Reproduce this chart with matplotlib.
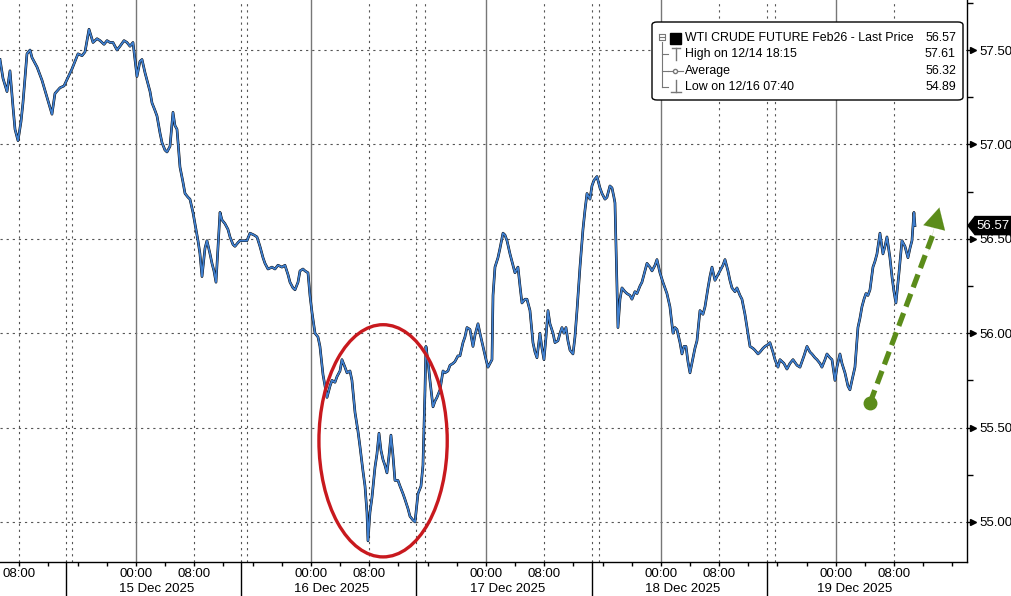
import matplotlib.pyplot as plt
import matplotlib.transforms as mtransforms
from matplotlib.patches import Ellipse, FancyBboxPatch, Polygon

plt.rcParams['font.family'] = ['Liberation Sans', 'DejaVu Sans']

# trading hours since Fri 12 Dec 00:00 (weekend taken out)
hours = [
    # Fri 12 Dec
    5.35, 5.76, 6.31, 6.72, 7.13, 7.41, 7.82, 8.23, 8.50, 8.78, 9.05, 9.47, 9.74, 10.43, 11.11, 11.80, 12.48, 12.89, 13.58, 14.13,
    # 15 Dec session
    15.23, 15.64, 16.05, 16.60, 17.01, 17.56, 18.11, 18.66, 19.07, 19.62, 20.03, 20.44, 20.85, 21.40, 21.81, 22.36, 22.77, 23.18, 23.59, 24.14,
    24.55, 24.83, 25.24, 25.51, 25.93, 26.20, 26.61, 26.89, 27.30, 27.57, 27.98, 28.26, 28.67, 29.08, 29.35, 29.63, 30.04, 30.45, 30.73, 31.14,
    31.41, 31.82, 32.10, 32.51, 32.78, 33.06, 33.47, 33.74, 34.16, 34.43, 34.70, 34.98, 35.25, 35.53, 35.80, 36.21, 36.62, 36.90, 37.31, 37.58,
    38.00, 38.27,
    # 16 Dec session
    39.23, 39.64, 40.19, 40.60, 41.01, 41.43, 41.70, 42.11, 42.66, 43.07, 43.48, 44.03, 44.44, 44.86, 45.13, 45.54, 45.82, 46.23, 46.50, 46.91,
    47.19, 47.60, 47.87, 48.15, 48.56, 48.97, 49.24, 49.66, 49.93, 50.21, 50.62, 50.89, 51.30, 51.58, 51.99, 52.26, 52.67, 52.95, 53.36, 53.63,
    54.05, 54.46, 54.73, 55.14, 55.42, 55.69, 55.83, 56.10, 56.38, 56.79, 57.06, 57.34, 57.61, 57.89, 58.16, 58.43, 58.71, 58.98, 59.26, 59.53,
    59.94, 60.22, 60.63, 60.90, 61.32, 61.59, 62.00, 62.28,
    # 17 Dec session
    62.69, 63.10, 63.37, 63.65, 63.78, 64.06, 64.33, 64.75, 65.02, 65.29, 65.71, 66.12, 66.39, 66.80, 67.08, 67.49, 67.76, 68.17, 68.45, 68.86,
    69.13, 69.41, 69.82, 70.23, 70.51, 70.92, 71.19, 71.60, 72.02, 72.29, 72.56, 72.84, 72.98, 73.25, 73.66, 73.94, 74.35, 74.62, 74.90, 75.31,
    75.58, 75.99, 76.40, 76.68, 76.95, 77.36, 77.64, 78.05, 78.46, 78.74, 79.01, 79.42, 79.70, 79.97, 80.25, 80.52, 80.79, 81.21, 81.48, 81.89,
    82.17, 82.44, 82.71, 82.99, 83.26, 83.54, 83.95, 84.22, 84.50, 84.91, 85.32, 85.59, 85.87, 86.28,
    # 18 Dec session
    86.55, 86.83, 87.24, 87.65, 87.93, 88.34, 88.61, 89.02, 89.30, 89.57, 89.71, 89.98, 90.12, 90.40, 90.67, 91.08, 91.36, 91.77, 92.04, 92.45,
    92.73, 93.14, 93.41, 93.83, 94.10, 94.51, 94.79, 95.20, 95.47, 95.88, 96.29, 96.57, 96.84, 97.25, 97.67, 97.94, 98.21, 98.63, 98.90, 99.17,
    99.45, 99.72, 100.00, 100.41, 100.68, 100.96, 101.37, 101.78, 102.06, 102.47, 102.74, 103.02, 103.43, 103.70, 104.11, 104.52, 104.80, 105.21, 105.48, 105.76,
    106.17, 106.44, 106.86, 107.13, 107.54, 107.82, 108.23, 108.64, 108.91, 109.33, 109.60, 110.01, 110.29,
    # 19 Dec session
    110.70, 110.97, 111.38, 111.66, 112.07, 112.34, 112.89, 113.30, 113.71, 114.13, 114.68, 115.09, 115.64, 116.05, 116.46, 116.73, 117.14, 117.42, 117.83, 118.10,
    118.52, 118.79, 119.20, 119.48, 119.89, 120.16, 120.57, 120.85, 121.26, 121.67, 121.94, 122.22, 122.63, 123.04, 123.32, 123.59, 123.87, 124.14, 124.41, 124.69,
    125.10, 125.37, 125.65, 126.06, 126.47, 126.75, 127.02, 127.43, 127.71, 127.98, 128.25, 128.67, 129.08, 129.49, 129.90, 130.18, 130.45, 130.72, 130.86,
]
price = [
    57.45, 57.35, 57.28, 57.39, 57.20, 57.08, 57.02, 57.12, 57.22, 57.35, 57.48, 57.50, 57.46, 57.41, 57.34, 57.25, 57.16, 57.27, 57.30, 57.31,
    57.40, 57.44, 57.48, 57.47, 57.49, 57.61, 57.54, 57.56, 57.55, 57.53, 57.55, 57.54, 57.54, 57.50, 57.52, 57.55, 57.54, 57.52, 57.54, 57.36,
    57.44, 57.45, 57.38, 57.34, 57.28, 57.22, 57.18, 57.15, 57.06, 57.01, 56.97, 56.96, 56.99, 57.17, 57.10, 57.08, 56.88, 56.80, 56.74, 56.72,
    56.71, 56.64, 56.58, 56.49, 56.42, 56.30, 56.45, 56.49, 56.42, 56.37, 56.33, 56.27, 56.45, 56.64, 56.60, 56.58, 56.55, 56.51, 56.47, 56.46,
    56.48, 56.49,
    56.49, 56.53, 56.52, 56.51, 56.46, 56.40, 56.37, 56.34, 56.35, 56.34, 56.36, 56.35, 56.36, 56.31, 56.27, 56.24, 56.23, 56.27, 56.33, 56.34,
    56.33, 56.32, 56.20, 56.11, 56.00, 55.98, 55.93, 55.78, 55.72, 55.66, 55.72, 55.75, 55.74, 55.77, 55.80, 55.86, 55.82, 55.79, 55.80, 55.75,
    55.58, 55.48, 55.40, 55.27, 55.19, 55.05, 54.90, 55.05, 55.13, 55.29, 55.36, 55.47, 55.38, 55.33, 55.30, 55.26, 55.35, 55.46, 55.35, 55.22,
    55.22, 55.19, 55.15, 55.12, 55.07, 55.03, 55.01, 55.00,
    55.15, 55.19, 55.30, 55.70, 55.93, 55.85, 55.75, 55.61, 55.64, 55.66, 55.70, 55.80, 55.79, 55.80, 55.83, 55.84, 55.85, 55.88, 55.88, 55.95,
    55.98, 56.03, 56.02, 55.93, 55.99, 56.05, 56.00, 55.93, 55.86, 55.82, 55.84, 55.86, 56.20, 56.35, 56.40, 56.45, 56.53, 56.52, 56.49, 56.42,
    56.38, 56.32, 56.35, 56.25, 56.16, 56.18, 56.18, 56.12, 55.95, 55.90, 55.87, 56.00, 55.92, 55.86, 55.98, 56.12, 56.05, 56.00, 55.95, 55.96,
    56.00, 56.03, 56.00, 56.03, 55.96, 55.91, 55.89, 55.98, 56.12, 56.35, 56.55, 56.65, 56.74, 56.71,
    56.78, 56.81, 56.83, 56.77, 56.74, 56.71, 56.72, 56.78, 56.77, 56.72, 56.69, 56.25, 56.03, 56.18, 56.24, 56.22, 56.21, 56.20, 56.18, 56.22,
    56.21, 56.25, 56.27, 56.33, 56.37, 56.35, 56.33, 56.36, 56.39, 56.32, 56.27, 56.24, 56.21, 56.14, 56.00, 56.03, 56.02, 55.95, 55.89, 55.93,
    55.93, 55.85, 55.79, 55.87, 55.92, 55.96, 56.12, 56.10, 56.14, 56.24, 56.30, 56.35, 56.28, 56.30, 56.33, 56.36, 56.39, 56.33, 56.28, 56.24,
    56.22, 56.24, 56.20, 56.18, 56.10, 56.03, 55.93, 55.92, 55.91, 55.89, 55.90, 55.92, 55.93,
    55.94, 55.95, 55.90, 55.86, 55.82, 55.86, 55.84, 55.81, 55.84, 55.86, 55.83, 55.82, 55.88, 55.93, 55.90, 55.89, 55.87, 55.86, 55.84, 55.82,
    55.86, 55.89, 55.87, 55.86, 55.75, 55.82, 55.89, 55.84, 55.79, 55.72, 55.70, 55.75, 55.82, 56.03, 56.08, 56.14, 56.18, 56.21, 56.20, 56.23,
    56.35, 56.38, 56.42, 56.53, 56.42, 56.46, 56.51, 56.40, 56.30, 56.22, 56.16, 56.32, 56.49, 56.46, 56.40, 56.45, 56.49, 56.64, 56.57,
]

midnights = [24, 48, 72, 96, 120]
eights = [8, 32, 56, 80, 104, 128]
session_close = [14.4, 38.4, 62.4, 86.5, 110.5]
session_open = [15.2, 39.2, 63.6, 87.5, 111.6]
day_centers = [26.8, 50.8, 75.0, 99.0, 122.6]
day_labels = ['15 Dec 2025', '16 Dec 2025', '17 Dec 2025', '18 Dec 2025', '19 Dec 2025']
y_ticks = [55.0, 55.5, 56.0, 56.5, 57.0, 57.5]
last_price = 56.57

legend_names = ['WTI CRUDE FUTURE Feb26 - Last Price', 'High on 12/14 18:15', 'Average', 'Low on 12/16 07:40']
legend_values = ['56.57', '57.61', '56.32', '54.89']

W, H = 1012, 596
fig = plt.figure(figsize=(W / 100, H / 100), dpi=100)
ax = fig.add_axes([0, 34 / H, 967 / W, 562 / H])
ax.set_xlim(5.35, 138.0)
ax.set_ylim(54.788, 57.765)

# grid
for y in y_ticks:
    ax.axhline(y, color='#555555', lw=0.8, ls=(0, (2, 3.5)), zorder=1)
for x in eights + session_close + session_open:
    ax.axvline(x, color='#555555', lw=0.8, ls=(0, (2, 3.5)), zorder=1)
for x in midnights:
    ax.axvline(x, color='#777777', lw=1.0, zorder=1)

# price line (black bars under the blue close line)
ax.plot(hours, price, color='black', lw=1.9, zorder=3)
ax.plot(hours, price, color='#3f7fcf', lw=1.3, zorder=4)

# red circle round the 16 Dec dip
ax.add_patch(Ellipse((57.9, 55.43), 17.6, 1.23, fill=False, ec='#c8191e', lw=2.4, zorder=5))

# green dashed arrow
green = '#5b8c1a'
ax.plot([124.69, 133.3], [55.63, 56.52], color=green, lw=3.8, ls=(0, (2.6, 1.3)), zorder=6,
        dash_capstyle='butt')
ax.plot([124.69], [55.63], 'o', color=green, ms=9, zorder=6)
ax.annotate('', xy=(134.3, 56.68), xytext=(132.6, 56.42),
            arrowprops=dict(arrowstyle='-|>,head_length=1.5,head_width=0.8', color=green, lw=0.1),
            zorder=6)

# spines
for s in ['left', 'top']:
    ax.spines[s].set_visible(False)
ax.spines['right'].set_linewidth(1.0)
ax.spines['bottom'].set_linewidth(1.0)

# y axis on the right
ax.yaxis.tick_right()
ax.set_yticks(y_ticks)
ax.set_yticklabels(['%.2f' % v for v in y_ticks], fontsize=9.5)
ax.set_yticks([v + 0.25 for v in y_ticks], minor=True)
ax.tick_params(axis='y', which='major', length=5, width=1, pad=4, colors='black')
ax.tick_params(axis='y', which='minor', length=4, width=1)
ytrans = mtransforms.blended_transform_factory(ax.transAxes, ax.transData)
ax.plot([1 + 6 / 967] * len(y_ticks), y_ticks, ls='', marker='>', ms=4.5, color='black',
        transform=ytrans, clip_on=False)

# x axis
minor_x = [h for h in range(8, 137, 4)]
ax.set_xticks(minor_x)
ax.set_xticklabels([])
ax.tick_params(axis='x', length=3, width=1)
xtrans = mtransforms.blended_transform_factory(ax.transData, ax.transAxes)
for x in session_close:
    ax.plot([x, x], [0, -40 / 562], color='black', lw=1, transform=xtrans, clip_on=False)
for x in eights:
    ax.text(x, -12 / 562, '08:00', transform=xtrans, ha='center', va='center', fontsize=9.5)
for x in midnights:
    ax.text(x, -12 / 562, '00:00', transform=xtrans, ha='center', va='center', fontsize=9.5)
for x, lab in zip(day_centers, day_labels):
    ax.text(x, -27 / 562, lab, transform=xtrans, ha='center', va='center', fontsize=9.5)

# last price tag
hh = 0.048
tag = Polygon([[968 / 967, last_price], [975 / 967, last_price + hh], [1012 / 967, last_price + hh],
               [1012 / 967, last_price - hh], [975 / 967, last_price - hh]],
              closed=True, fc='black', ec='black', transform=ytrans, clip_on=False, zorder=10)
ax.add_patch(tag)
ax.text(993 / 967, last_price, '%.2f' % last_price, transform=ytrans, ha='center', va='center',
        color='white', fontsize=9.5, zorder=11)

# legend box
def fx(px):
    return px / W

def fy(py):
    return 1 - py / H

box = FancyBboxPatch((fx(652), fy(100)), fx(963) - fx(652), fy(22) - fy(100),
                     boxstyle='round,pad=0,rounding_size=0.005', transform=fig.transFigure,
                     fc='white', ec='black', lw=1, zorder=20)
fig.patches.append(box)
rows = [38, 54, 71, 87]
for name, val, ry in zip(legend_names, legend_values, rows):
    fig.text(fx(685), fy(ry), name, ha='left', va='center', fontsize=8.9, zorder=21)
    fig.text(fx(956), fy(ry), val, ha='right', va='center', fontsize=8.9, zorder=21)

def fline(xs, ys, **kw):
    fig.add_artist(plt.Line2D([fx(v) for v in xs], [fy(v) for v in ys],
                              transform=fig.transFigure, zorder=21, **kw))

grey = '#777777'
fline([662, 662], [42, 87], color=grey, lw=0.8)
for ry in rows[1:]:
    fline([662, 668], [ry, ry], color=grey, lw=0.8)
fline([659, 665, 665, 659, 659], [34, 34, 40, 40, 34], color=grey, lw=0.8)
fline([660, 664], [37, 37], color=grey, lw=0.8)
fig.patches.append(FancyBboxPatch((fx(670), fy(44)), fx(681) - fx(670), fy(33) - fy(44),
                                  boxstyle='square,pad=0', transform=fig.transFigure,
                                  fc='black', ec='black', zorder=21))
fline([676, 676], [48, 60], color=grey, lw=1)
fline([672, 680], [48, 48], color=grey, lw=1)
fline([668, 683], [71, 71], color=grey, lw=0.8)
fline([675.5], [71], color=grey, marker='o', ms=3, mfc='white', ls='')
fline([676, 676], [80, 92], color=grey, lw=1)
fline([671, 681], [92, 92], color=grey, lw=1)

fig.savefig('out.png', dpi=100)
